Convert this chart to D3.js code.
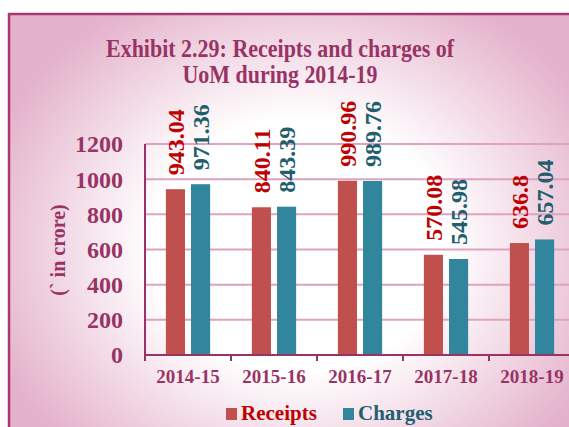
<!DOCTYPE html>
<html lang="en">
<head>
  <meta charset="UTF-8">
  <title>Receipts and charges of UoM</title>
  <style>
    body { margin: 0; background: #fff; }
    svg text { font-family: "Liberation Serif", "Times New Roman", serif; font-weight: bold; }
    .tick-y { fill: #993366; font-size: 24px; }
    .tick-x { fill: #993366; font-size: 19px; }
    .grid { stroke: #e0a2c2; stroke-width: 2px; }
    .axis-line { stroke: #993366; stroke-width: 2px; fill: none; }
  </style>
  <script src="https://d3js.org/d3.v7.min.js"></script>
</head>
<body>
<svg id="chart"></svg>
<script>
  // data
  var years = ['2014-15', '2015-16', '2016-17', '2017-18', '2018-19'];
  var receipts = [943.04, 840.11, 990.96, 570.08, 636.8];
  var charges = [971.36, 843.39, 989.76, 545.98, 657.04];
  var seriesNames = ['Receipts', 'Charges'];
  var yTicks = [0, 200, 400, 600, 800, 1000, 1200];

  var colors = { Receipts: '#c0504d', Charges: '#31859c' };
  var labelColors = { Receipts: '#c00000', Charges: '#215f6e' };

  var width = 569, height = 427;
  var svg = d3.select('#chart').attr('width', width).attr('height', height);

  // background with radial glow
  var defs = svg.append('defs');
  var grad = defs.append('radialGradient')
    .attr('id', 'bg')
    .attr('gradientUnits', 'userSpaceOnUse')
    .attr('cx', 300).attr('cy', 245).attr('r', 330)
    .attr('gradientTransform', 'translate(300,245) scale(1,0.85) translate(-300,-245)');
  grad.append('stop').attr('offset', 0).attr('stop-color', '#ffffff');
  grad.append('stop').attr('offset', 0.45).attr('stop-color', '#ffffff');
  grad.append('stop').attr('offset', 1).attr('stop-color', '#e4b2cb');

  svg.append('rect').attr('x', 9).attr('y', 14).attr('width', 620).attr('height', 460)
    .attr('fill', 'url(#bg)');
  svg.append('path').attr('d', 'M9,440V14H600')
    .attr('fill', 'none').attr('stroke', '#a8386f').attr('stroke-width', 2.5);

  // title
  var title = svg.append('text').attr('text-anchor', 'middle')
    .attr('fill', '#993366').style('font-size', '25px');
  title.append('tspan').attr('x', 280).attr('y', 57)
    .attr('textLength', 348).attr('lengthAdjust', 'spacingAndGlyphs')
    .text('Exhibit 2.29: Receipts and charges of');
  title.append('tspan').attr('x', 280).attr('y', 83)
    .attr('textLength', 195).attr('lengthAdjust', 'spacingAndGlyphs')
    .text('UoM during 2014-19');

  // scales
  var x0 = d3.scaleBand().domain(years).range([145, 575]).padding(0);
  var x1 = d3.scaleBand().domain(seriesNames).range([0, x0.bandwidth()])
    .paddingInner(0.24).paddingOuter(0.83);
  var y = d3.scaleLinear().domain([0, 1200]).range([355, 144]);

  // gridlines
  svg.append('g').selectAll('line').data(yTicks.slice(1)).enter().append('line')
    .attr('class', 'grid')
    .attr('x1', 145).attr('x2', 600)
    .attr('y1', function(d){ return y(d); }).attr('y2', function(d){ return y(d); });

  // y tick labels
  svg.append('g').selectAll('text').data(yTicks).enter().append('text')
    .attr('class', 'tick-y')
    .attr('x', 123).attr('y', function(d){ return y(d); })
    .attr('dy', '0.35em').attr('text-anchor', 'end')
    .text(function(d){ return d; });

  // y axis title
  svg.append('text')
    .attr('transform', 'translate(58,250) rotate(-90)')
    .attr('text-anchor', 'middle').attr('dy', '0.35em')
    .attr('fill', '#993366').style('font-size', '20px')
    .text('(` in crore)');

  // bars
  var rows = years.map(function(yr, i){
    return { year: yr, values: [
      { name: 'Receipts', value: receipts[i] },
      { name: 'Charges', value: charges[i] }
    ] };
  });

  var groups = svg.append('g').selectAll('g').data(rows).enter().append('g')
    .attr('transform', function(d){ return 'translate(' + x0(d.year) + ',0)'; });

  groups.selectAll('rect').data(function(d){ return d.values; }).enter().append('rect')
    .attr('x', function(d){ return x1(d.name); })
    .attr('width', x1.bandwidth())
    .attr('y', function(d){ return y(d.value); })
    .attr('height', function(d){ return y(0) - y(d.value); })
    .attr('fill', function(d){ return colors[d.name]; });

  // value labels, rotated
  groups.selectAll('text').data(function(d){ return d.values; }).enter().append('text')
    .attr('transform', function(d){
      return 'translate(' + (x1(d.name) + x1.bandwidth() / 2) + ',' + (y(d.value) - 14) + ') rotate(-90)';
    })
    .attr('dy', '0.34em')
    .attr('fill', function(d){ return labelColors[d.name]; })
    .style('font-size', '24px')
    .text(function(d){ return d.value; });

  // axes
  svg.append('line').attr('class', 'axis-line')
    .attr('x1', 145).attr('x2', 145).attr('y1', 144).attr('y2', 355);
  svg.append('line').attr('class', 'axis-line')
    .attr('x1', 145).attr('x2', 600).attr('y1', 355).attr('y2', 355);
  var bounds = years.map(function(d){ return x0(d); });
  svg.append('g').selectAll('line').data(bounds).enter().append('line')
    .attr('class', 'axis-line')
    .attr('x1', function(d){ return d; }).attr('x2', function(d){ return d; })
    .attr('y1', 355).attr('y2', 361);

  svg.append('g').selectAll('text').data(years).enter().append('text')
    .attr('class', 'tick-x')
    .attr('x', function(d){ return x0(d) + x0.bandwidth() / 2; })
    .attr('y', 383).attr('text-anchor', 'middle')
    .text(function(d){ return d; });

  // legend
  var legendX = [226, 343];
  var legend = svg.append('g').selectAll('g').data(seriesNames).enter().append('g')
    .attr('transform', function(d, i){ return 'translate(' + legendX[i] + ',408)'; });
  legend.append('rect').attr('width', 11).attr('height', 12)
    .attr('fill', function(d){ return colors[d]; });
  legend.append('text').attr('x', 15).attr('y', 12)
    .attr('fill', function(d){ return labelColors[d]; })
    .style('font-size', '21px')
    .text(function(d){ return d; });
</script>
</body>
</html>
